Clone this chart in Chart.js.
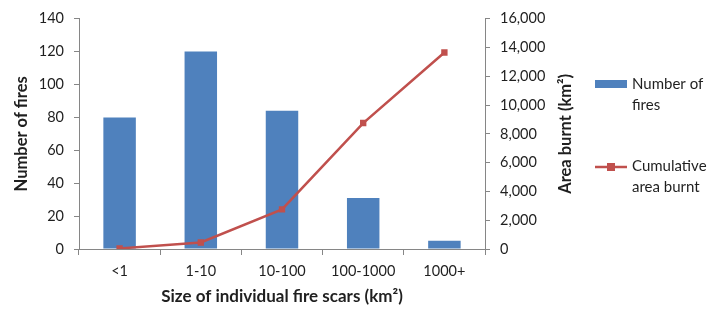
<!DOCTYPE html>
<html>
<head>
<meta charset="utf-8">
<script src="https://cdn.jsdelivr.net/npm/chart.js@4"></script>
<style>
  html, body { margin: 0; padding: 0; background: #fff; }
  #wrap { width: 707px; height: 311px; }
</style>
</head>
<body>
<div id="wrap"><canvas id="myChart" width="707" height="311"></canvas></div>
<script>
// fire scar size classes and values
var categories = ["<1", "1-10", "10-100", "100-1000", "1000+"];
var fireCounts = [80, 120, 84, 31, 5];
var cumulativeArea = [40, 450, 2750, 8750, 13650];

var barColor = "#4F81BD";
var lineColor = "#C0504D";
var axisColor = "#868686";
var textColor = "#1f1f1f";
var fontFamily = "Lato, 'Open Sans', sans-serif";

// legend + right axis title (reads bottom-to-top, chart.js would rotate it the other way)
var sideLegend = {
    id: "sideLegend",
    afterDraw: function(chart) {
        var ctx = chart.ctx;
        var area = chart.chartArea;
        var x0 = 595;
        ctx.save();

        ctx.font = "bold 16.5px " + fontFamily;
        ctx.fillStyle = textColor;
        ctx.textAlign = "center";
        ctx.textBaseline = "middle";
        ctx.translate(566, (area.top + area.bottom) / 2);
        ctx.rotate(-Math.PI / 2);
        ctx.fillText("Area burnt (km\u00B2)", 0, 0);
        ctx.setTransform(1, 0, 0, 1, 0, 0);

        ctx.textAlign = "left";
        ctx.font = "15px " + fontFamily;
        ctx.fillStyle = barColor;
        ctx.fillRect(x0, 80, 32, 8);
        ctx.fillStyle = textColor;
        ctx.fillText("Number of", x0 + 37, 84);
        ctx.fillText("fires", x0 + 37, 105);

        ctx.strokeStyle = lineColor;
        ctx.lineWidth = 2.5;
        ctx.beginPath();
        ctx.moveTo(x0, 167);
        ctx.lineTo(x0 + 32, 167);
        ctx.stroke();
        ctx.fillStyle = lineColor;
        ctx.fillRect(x0 + 16 - 4, 167 - 4, 8, 8);
        ctx.fillStyle = textColor;
        ctx.fillText("Cumulative", x0 + 37, 166);
        ctx.fillText("area burnt", x0 + 37, 187);
        ctx.restore();
    }
};

var canvas = document.getElementById("myChart");
var ctx = canvas.getContext("2d");

var myChart = new Chart(ctx, {
    type: "bar",
    data: {
        labels: categories,
        datasets: [{
            type: "line",
            label: "Cumulative area burnt",
            data: cumulativeArea,
            yAxisID: "y2",
            borderColor: lineColor,
            backgroundColor: lineColor,
            borderWidth: 2.5,
            pointStyle: "rect",
            pointRadius: 4.5,
            pointBorderWidth: 0,
            tension: 0,
            order: 0
        }, {
            type: "bar",
            label: "Number of fires",
            data: fireCounts,
            yAxisID: "y",
            backgroundColor: barColor,
            borderWidth: 0,
            barPercentage: 0.4,
            categoryPercentage: 1.0,
            order: 1
        }]
    },
    options: {
        responsive: false,
        animation: false,
        layout: { padding: { top: 16, right: 117, bottom: 0, left: 0 } },
        plugins: {
            legend: { display: false },
            tooltip: { enabled: false }
        },
        scales: {
            x: {
                grid: { display: true, drawOnChartArea: false, drawTicks: true, tickLength: 6, color: axisColor, offset: true },
                border: { color: axisColor },
                ticks: { color: textColor, font: { family: fontFamily, size: 14.5 }, maxRotation: 0, padding: 8 },
                title: { display: true, text: "Size of individual fire scars (km\u00B2)", color: textColor, font: { family: fontFamily, size: 17, weight: "bold" }, padding: { top: 2, bottom: 4 } },
                afterFit: function(scale) { scale.height = 62; }
            },
            y: {
                position: "left",
                min: 0, max: 140,
                ticks: { stepSize: 20, color: textColor, font: { family: fontFamily, size: 14.5 }, padding: 10 },
                grid: { display: true, drawOnChartArea: false, drawTicks: true, tickLength: 5, color: axisColor },
                border: { color: axisColor },
                title: { display: true, text: "Number of fires", color: textColor, font: { family: fontFamily, size: 16.5, weight: "bold" }, padding: { top: 12, bottom: 4 } },
                afterFit: function(scale) { scale.width = 79; }
            },
            y2: {
                position: "right",
                min: 0, max: 16000,
                ticks: { stepSize: 2000, color: textColor, font: { family: fontFamily, size: 14.5 }, padding: 10 },
                grid: { display: true, drawOnChartArea: false, drawTicks: true, tickLength: 5, color: axisColor },
                border: { color: axisColor },
                title: { display: false },
                afterFit: function(scale) { scale.width = 105; }
            }
        }
    },
    plugins: [sideLegend]
});
</script>
</body>
</html>
